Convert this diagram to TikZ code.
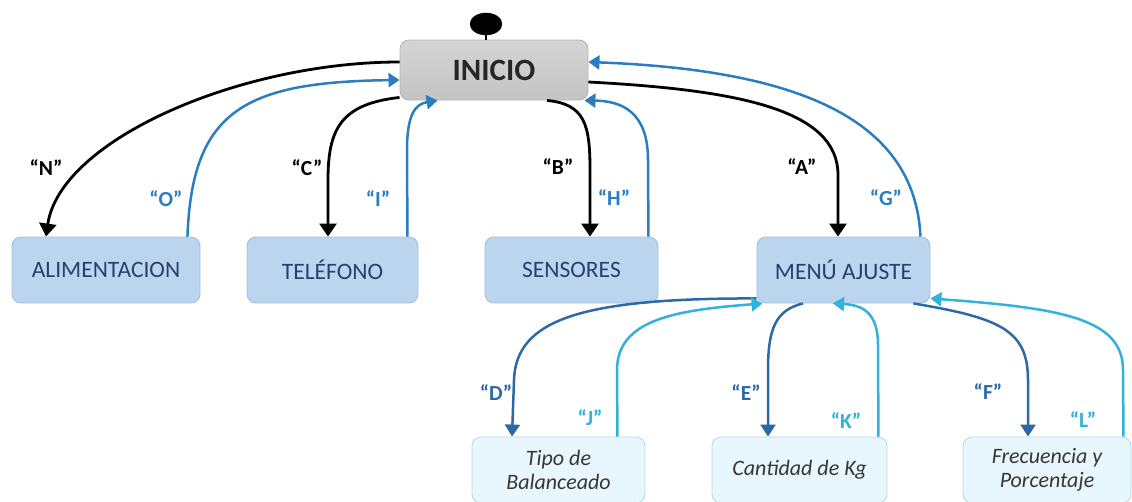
\documentclass[tikz,border=0pt]{standalone}
\usepackage{fontspec}
\setmainfont{Carlito}
\usetikzlibrary{arrows.meta,shapes.geometric}

\definecolor{inifillT}{HTML}{D4D4D4}
\definecolor{inifillB}{HTML}{C4C4C4}
\definecolor{iniedge}{HTML}{B4B4B4}
\definecolor{boxfill}{HTML}{BCD5EE}
\definecolor{boxedge}{HTML}{A3C0DF}
\definecolor{boxtext}{HTML}{2B3F6B}
\definecolor{subfill}{HTML}{E8F7FD}
\definecolor{subedge}{HTML}{B3D9EA}
\definecolor{subtext}{HTML}{363636}
\definecolor{upblue}{HTML}{2A7DBF}
\definecolor{downblue}{HTML}{2D69A5}
\definecolor{cyanback}{HTML}{30B2DC}

\begin{document}
\begin{tikzpicture}[x=1pt,y=-1pt,
  topbox/.style={draw=boxedge, fill=boxfill, line width=0.9pt, rounded corners=9pt,
    minimum height=66pt, inner sep=0pt, text=boxtext, font=\fontsize{23.5}{27}\selectfont},
  subbox/.style={draw=subedge, fill=subfill, line width=0.9pt, rounded corners=9pt,
    minimum height=66pt, inner sep=0pt, align=center, text=subtext,
    font=\itshape\fontsize{22}{24}\selectfont},
  wire/.style={line width=2.5pt},
  blk/.style={wire, line width=2.8pt, draw=black, -{Triangle[width=17pt,length=13pt]}},
  upw/.style={wire, draw=upblue, -{Triangle[width=14pt,length=11pt]}},
  dnw/.style={wire, draw=downblue, -{Triangle[width=15pt,length=12pt]}},
  cyw/.style={wire, draw=cyanback, -{Triangle[width=14pt,length=11pt]}},
  lbl/.style={font=\bfseries\fontsize{21.5}{24}\selectfont, inner sep=0pt}
]
\useasboundingbox (0,0) rectangle (1132,501);

% start marker and main state
\node[draw=black, fill=black, ellipse, minimum width=32pt, minimum height=22pt, inner sep=0pt] (start) at (486,24) {};
\node[draw=iniedge, line width=0.9pt, rounded corners=9pt, top color=inifillT, bottom color=inifillB,
  minimum width=188pt, minimum height=60pt, inner sep=0pt,
  font=\bfseries\fontsize{31}{36}\selectfont, text=black!85] (ini) at (494,70) {INICIO};
\draw[line width=2pt] (start.south) -- ([xshift=-8pt]ini.north);

% first level
\node[topbox, minimum width=188pt] (ali) at (106,270) {ALIMENTACION};
\node[topbox, minimum width=171pt] (tel) at (332.5,270) {TELÉFONO};
\node[topbox, minimum width=173pt] (sen) at (571.5,270) {SENSORES};
\node[topbox, minimum width=173pt] (men) at (843.5,270) {MENÚ AJUSTE};

% settings sub-menu
\node[subbox, minimum width=173pt] (tip) at (558.5,470) {Tipo de\\Balanceado};
\node[subbox, minimum width=175pt] (can) at (799.5,470) {Cantidad de Kg};
\node[subbox, minimum width=168pt] (fre) at (1047,470) {Frecuencia y\\Porcentaje};

% INICIO -> first level
\draw[blk] ([yshift=8pt]ini.west) .. controls (240,62) and (60,140) .. ([xshift=-60pt]ali.north);
\draw[blk] ([yshift=3pt]ini.south west) .. controls (340,104) and (328,130) .. (328,180) -- ([xshift=-4.5pt]tel.north);
\draw[blk] ([xshift=53pt]ini.south) .. controls (585,104) and (590,125) .. (590,170) -- ([xshift=18.5pt]sen.north);
\draw[blk] ([yshift=-12pt]ini.east) .. controls (740,90) and (838,110) .. (838,175) -- ([xshift=-5.5pt]men.north);

% first level -> INICIO
\draw[upw] ([xshift=-13pt]ali.north east) .. controls (192,110) and (245,82) .. ([yshift=-10pt]ini.west);
\draw[upw] ([xshift=-11pt]tel.north east) -- (407,150) .. controls (407,115) and (415,104) .. ([xshift=38pt]ini.south west);
\draw[upw] ([xshift=-10pt]sen.north east) -- (648,160) .. controls (648,112) and (622,101) .. ([xshift=-4pt]ini.south east);
\draw[upw] ([xshift=-10pt]men.north east) .. controls (915,120) and (800,70) .. ([yshift=8pt]ini.east);

% MENÚ AJUSTE -> sub-menu
\draw[dnw] ([yshift=5pt]men.south west) .. controls (580,298) and (516,320) .. (514,380) -- ([xshift=-46.5pt]tip.north);
\draw[dnw] ([xshift=-40.5pt]men.south) .. controls (775,310) and (768,330) .. (768,370) -- ([xshift=-31.5pt]can.north);
\draw[dnw] ([xshift=-17pt]men.south east) .. controls (1000,318) and (1028,330) .. (1028,380) -- ([xshift=-19pt]fre.north);

% sub-menu -> MENÚ AJUSTE
\draw[cyw] ([xshift=-28pt]tip.north east) -- (617,370) .. controls (617,318) and (680,310) .. ([xshift=6pt]men.south west);
\draw[cyw] ([xshift=-9pt]can.north east) -- (878,345) .. controls (878,312) and (862,305) .. ([xshift=-10.5pt]men.south);
\draw[cyw] ([xshift=-8pt]fre.north east) -- (1123,370) .. controls (1123,318) and (1060,308) .. ([yshift=5pt]men.south east);

% transition labels
\node[lbl, text=black] (lN) at (46,168) {“N”};
\node[lbl, text=upblue] (lO) at (166,199) {“O”};
\node[lbl, text=black] (lC) at (307,168) {“C”};
\node[lbl, text=upblue] (lI) at (378,199) {“I”};
\node[lbl, text=black] (lB) at (558,167) {“B”};
\node[lbl, text=upblue] (lH) at (614,198) {“H”};
\node[lbl, text=black] (lA) at (802,167) {“A”};
\node[lbl, text=upblue] (lG) at (886,198) {“G”};
\node[lbl, text=downblue] (lD) at (496,393) {“D”};
\node[lbl, text=cyanback] (lJ) at (590,418) {“J”};
\node[lbl, text=downblue] (lE) at (746,393) {“E”};
\node[lbl, text=cyanback] (lK) at (846,421) {“K”};
\node[lbl, text=downblue] (lF) at (988,392) {“F”};
\node[lbl, text=cyanback] (lL) at (1083,420) {“L”};
\end{tikzpicture}
\end{document}
